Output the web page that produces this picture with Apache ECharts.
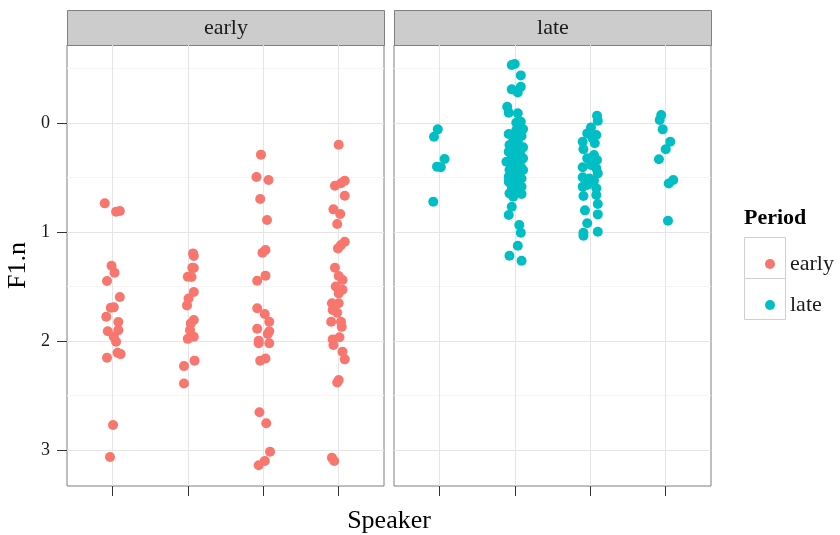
<html>
<head>
<meta charset="utf-8">
<title>F1.n by Speaker</title>
<script src="https://cdn.jsdelivr.net/npm/echarts@6/dist/echarts.min.js"></script>
</head>
<body style="margin:0">
<div id="main" style="width:840px;height:535px"></div>
<script type="text/javascript">
var speakerTicks = [1, 2, 3, 4];
var yTicks = [0, 1, 2, 3];
var yMinorTicks = [-0.5, 0.5, 1.5, 2.5];
var periods = ['early', 'late'];
var periodColors = ['#F8766D', '#00BFC4'];

// jittered speaker position and F1.n
var earlyX = [0.90, 1.05, 1.10, 0.99, 1.03, 0.93, 1.10, 0.98, 1.02, 0.92, 1.08, 0.94, 1.08, 1.02, 1.05, 1.07, 1.11, 0.93, 1.01, 0.97,
  2.07, 2.08, 2.06, 2.08, 2.00, 2.05, 2.08, 2.01, 1.99, 2.08, 2.04, 2.03, 2.08, 2.00, 2.09, 1.95, 1.95,
  2.97, 2.91, 3.07, 2.96, 3.05, 2.99, 3.03, 3.03, 2.92, 2.92, 3.02, 3.08, 2.92, 3.08, 3.06, 2.94, 2.94, 3.08, 3.03, 2.96, 2.95, 3.04, 3.09, 3.02, 2.94,
  4.00, 3.95, 4.03, 4.08, 4.08, 3.93, 4.02, 3.98, 4.08, 4.03, 3.99, 3.95, 4.00, 4.05, 3.96, 4.05, 4.00, 3.91, 4.00, 3.92, 3.98, 3.90, 4.03, 4.04, 3.92, 4.01, 3.93, 4.05, 4.08, 4.00, 3.98, 3.91, 3.94];
var earlyY = [0.737, 0.814, 0.807, 1.309, 1.373, 1.450, 1.596, 1.694, 1.691, 1.777, 1.826, 1.911, 1.900, 1.960, 2.006, 2.107, 2.120, 2.153, 2.771, 3.064,
  1.196, 1.22, 1.327, 1.33, 1.41, 1.413, 1.55, 1.61, 1.673, 1.807, 1.838, 1.90, 1.96, 1.98, 2.18, 2.23, 2.39,
  0.29, 0.495, 0.523, 0.697, 0.89, 1.19, 1.165, 1.40, 1.447, 1.70, 1.752, 1.823, 1.887, 1.911, 1.936, 1.997, 2.02, 2.02, 2.16, 2.18, 2.654, 2.755, 3.015, 3.10, 3.14,
  0.199, 0.575, 0.553, 0.53, 0.667, 0.792, 0.835, 0.927, 1.089, 1.12, 1.15, 1.327, 1.404, 1.44, 1.50, 1.53, 1.563, 1.654, 1.654, 1.716, 1.74, 1.823, 1.823, 1.87, 1.985, 1.966, 2.037, 2.098, 2.168, 2.358, 2.38, 3.07, 3.10];

var lateX = [0.98, 0.93, 1.07, 0.97, 1.02, 0.92,
  1.96, 2.00, 2.08, 1.96, 2.04, 2.08, 1.90, 1.92, 2.04, 2.02, 2.08, 2.11, 2.02,
  1.92, 2.09, 1.98, 2.04, 1.93, 2.11, 2.00, 1.92, 2.07, 1.96, 2.11, 1.89, 2.02, 1.98, 2.08, 1.93, 2.11, 2.02, 1.92, 2.09, 1.98, 1.92, 2.04, 1.96, 2.09, 2.00, 1.93, 2.09, 1.98,
  1.96, 1.92, 2.06, 2.08, 2.04, 1.93, 2.09,
  3.09, 3.10, 3.01, 3.08, 2.96, 2.90, 2.91, 3.03, 3.06, 3.05, 2.96, 3.09, 2.90, 3.01, 3.08, 3.10, 2.90, 2.99, 3.05, 2.90, 2.96, 3.08, 2.91, 3.08, 3.10, 2.93, 3.10, 2.96, 2.91, 2.91, 3.10,
  3.94, 3.92, 3.96, 4.06, 4.00, 3.91, 4.10, 4.04, 4.03];
var lateY = [0.058, 0.125, 0.33, 0.40, 0.406, 0.722,
  -0.532, -0.541, -0.437, -0.309, -0.28, -0.333, -0.15, -0.095, -0.089, -0.003, -0.012, 0.055, 0.064,
  0.101, 0.119, 0.141, 0.171, 0.202, 0.223, 0.248, 0.263, 0.278, 0.303, 0.324, 0.355, 0.355, 0.385, 0.401, 0.431, 0.431, 0.462, 0.492, 0.508, 0.523, 0.538, 0.554, 0.584, 0.584, 0.615, 0.645, 0.651, 0.676,
  0.768, 0.844, 0.936, 1.006, 1.125, 1.217, 1.263,
  -0.067, -0.021, 0.04, 0.11, 0.095, 0.171, 0.241, 0.14, 0.186, 0.294, 0.324, 0.339, 0.406, 0.385, 0.416, 0.462, 0.498, 0.508, 0.529, 0.584, 0.569, 0.599, 0.67, 0.66, 0.743, 0.801, 0.838, 0.92, 1.006, 1.034, 0.997,
  -0.073, -0.028, 0.058, 0.171, 0.241, 0.333, 0.523, 0.554, 0.896];

function pairs(xs, ys) {
  var out = [];
  for (var i = 0; i < xs.length; i++) out.push([xs[i], ys[i]]);
  return out;
}

var font = 'Liberation Serif';
var yMin = -0.716, yMax = 3.33;

function xAxisFor(gi) {
  return {
    type: 'value', gridIndex: gi, min: 0.4, max: 4.6, position: 'bottom',
    axisLine: { show: false, onZero: false },
    axisTick: { show: true, length: 10, customValues: speakerTicks, lineStyle: { color: '#333' } },
    axisLabel: { show: false },
    splitLine: { show: true, lineStyle: { color: '#e5e5e5', width: 1 } }
  };
}
function yMajorFor(gi, labels) {
  return {
    type: 'value', gridIndex: gi, min: yMin, max: yMax, inverse: true, position: 'left',
    name: labels ? 'F1.n' : '', nameLocation: 'middle', nameGap: 36, nameRotate: 90,
    nameTextStyle: { fontFamily: font, fontSize: 26, color: '#000' },
    axisLine: { show: false, onZero: false },
    axisTick: { show: labels, length: 10, customValues: yTicks, lineStyle: { color: '#333' } },
    axisLabel: { show: labels, margin: 17, customValues: yTicks, fontFamily: font, fontSize: 18, color: '#1a1a1a' },
    splitLine: { show: true, lineStyle: { color: '#e5e5e5', width: 1 } }
  };
}
function yMinorFor(gi) {
  return {
    type: 'value', gridIndex: gi, min: yMin, max: yMax, inverse: true, position: 'right',
    axisLine: { show: false, onZero: false },
    axisTick: { show: false, customValues: yMinorTicks },
    axisLabel: { show: false },
    splitLine: { show: true, lineStyle: { color: '#f5f5f5', width: 1 } }
  };
}

var myChart = echarts.init(document.getElementById('main'));
var option = {
  animation: false,
  backgroundColor: '#fff',
  grid: [
    { left: 67, top: 45, width: 317, height: 441, show: true, borderColor: '#7f7f7f', borderWidth: 1, backgroundColor: '#fff' },
    { left: 394, top: 45, width: 317, height: 441, show: true, borderColor: '#7f7f7f', borderWidth: 1, backgroundColor: '#fff' }
  ],
  xAxis: [xAxisFor(0), xAxisFor(1)],
  yAxis: [yMinorFor(0), yMajorFor(0, true), yMinorFor(1), yMajorFor(1, false)],
  legend: {
    data: periods, orient: 'vertical', left: 760, top: 248,
    icon: 'circle', itemWidth: 10, itemHeight: 10, itemGap: 19,
    textStyle: { fontFamily: font, fontSize: 22, color: '#1a1a1a', lineHeight: 22, padding: [0, 0, 0, 10] }
  },
  series: [
    { name: periods[0], type: 'scatter', xAxisIndex: 0, yAxisIndex: 1, symbolSize: 10,
      itemStyle: { color: periodColors[0], opacity: 1 }, data: pairs(earlyX, earlyY) },
    { name: periods[1], type: 'scatter', xAxisIndex: 1, yAxisIndex: 3, symbolSize: 10,
      itemStyle: { color: periodColors[1], opacity: 1 }, data: pairs(lateX, lateY) }
  ],
  graphic: [
    { type: 'rect', shape: { x: 67.5, y: 10.5, width: 317, height: 35 }, style: { fill: '#cccccc', stroke: '#7f7f7f', lineWidth: 1 } },
    { type: 'rect', shape: { x: 394.5, y: 10.5, width: 317, height: 35 }, style: { fill: '#cccccc', stroke: '#7f7f7f', lineWidth: 1 } },
    { type: 'text', x: 226, y: 28, style: { text: 'early', fontFamily: font, fontSize: 22, fill: '#1a1a1a', textAlign: 'center', textVerticalAlign: 'middle' } },
    { type: 'text', x: 553, y: 28, style: { text: 'late', fontFamily: font, fontSize: 22, fill: '#1a1a1a', textAlign: 'center', textVerticalAlign: 'middle' } },
    { type: 'text', x: 389, y: 521, style: { text: 'Speaker', fontFamily: font, fontSize: 26, fill: '#000', textAlign: 'center', textVerticalAlign: 'middle' } },
    { type: 'text', x: 744, y: 218, style: { text: 'Period', fontFamily: font, fontSize: 22, fontWeight: 'bold', fill: '#000', textAlign: 'left', textVerticalAlign: 'middle' } },
    { type: 'rect', z: -1, shape: { x: 744.5, y: 237.5, width: 41, height: 41 }, style: { fill: '#fff', stroke: '#d0d0d0', lineWidth: 1 } },
    { type: 'rect', z: -1, shape: { x: 744.5, y: 278.5, width: 41, height: 41 }, style: { fill: '#fff', stroke: '#d0d0d0', lineWidth: 1 } }
  ]
};
myChart.setOption(option);
</script>
</body>
</html>
